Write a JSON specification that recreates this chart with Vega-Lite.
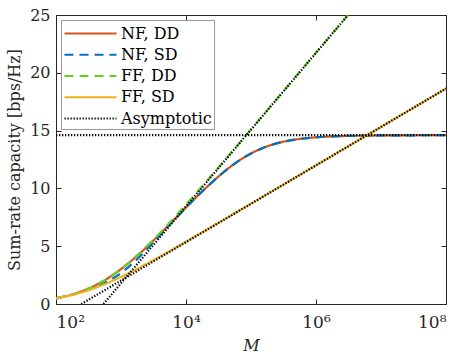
{
  "$schema": "https://vega.github.io/schema/vega-lite/v6.json",
  "width": 390,
  "height": 289,
  "autosize": "none",
  "padding": {"left": 56, "top": 15, "right": 15, "bottom": 54},
  "background": "white",
  "config": {
    "font": "DejaVu Serif",
    "view": {"stroke": "#262626", "strokeWidth": 1},
    "axis": {
      "grid": false,
      "domainColor": "#262626",
      "tickColor": "#262626",
      "labelColor": "#262626",
      "titleColor": "#262626",
      "labelFont": "DejaVu Serif",
      "titleFont": "DejaVu Serif",
      "labelFontSize": 16,
      "titleFontSize": 16,
      "titleFontWeight": "normal",
      "tickSize": -5,
      "labelPadding": 11
    },
    "legend": {
      "labelFont": "DejaVu Serif",
      "labelFontSize": 16,
      "labelColor": "black"
    }
  },
  "data": {
    "values": [
      {"s": "NF, DD", "g": "a", "M": 100, "y": 0.492},
      {"s": "NF, DD", "g": "a", "M": 177.83, "y": 0.824},
      {"s": "NF, DD", "g": "a", "M": 316.23, "y": 1.333},
      {"s": "NF, DD", "g": "a", "M": 562.34, "y": 2.06},
      {"s": "NF, DD", "g": "a", "M": 1000, "y": 3.02},
      {"s": "NF, DD", "g": "a", "M": 1778.3, "y": 4.18},
      {"s": "NF, DD", "g": "a", "M": 3162.3, "y": 5.5},
      {"s": "NF, DD", "g": "a", "M": 5623.4, "y": 6.91},
      {"s": "NF, DD", "g": "a", "M": 10000, "y": 8.35},
      {"s": "NF, DD", "g": "a", "M": 17783, "y": 9.74},
      {"s": "NF, DD", "g": "a", "M": 31623, "y": 11.03},
      {"s": "NF, DD", "g": "a", "M": 56234, "y": 12.15},
      {"s": "NF, DD", "g": "a", "M": 100000, "y": 13.02},
      {"s": "NF, DD", "g": "a", "M": 177828, "y": 13.64},
      {"s": "NF, DD", "g": "a", "M": 316228, "y": 14.04},
      {"s": "NF, DD", "g": "a", "M": 562341, "y": 14.28},
      {"s": "NF, DD", "g": "a", "M": 1000000, "y": 14.42},
      {"s": "NF, DD", "g": "a", "M": 1778279, "y": 14.5},
      {"s": "NF, DD", "g": "a", "M": 3162278, "y": 14.54},
      {"s": "NF, DD", "g": "a", "M": 5623413, "y": 14.565},
      {"s": "NF, DD", "g": "a", "M": 10000000, "y": 14.58},
      {"s": "NF, DD", "g": "a", "M": 17782794, "y": 14.59},
      {"s": "NF, DD", "g": "a", "M": 31622777, "y": 14.595},
      {"s": "NF, DD", "g": "a", "M": 56234133, "y": 14.6},
      {"s": "NF, DD", "g": "a", "M": 100000000, "y": 14.6},

      {"s": "NF, SD", "g": "b", "M": 100, "y": 0.49},
      {"s": "NF, SD", "g": "b", "M": 177.83, "y": 0.8},
      {"s": "NF, SD", "g": "b", "M": 316.23, "y": 1.24},
      {"s": "NF, SD", "g": "b", "M": 562.34, "y": 1.82},
      {"s": "NF, SD", "g": "b", "M": 1000, "y": 2.68},
      {"s": "NF, SD", "g": "b", "M": 1778.3, "y": 3.88},
      {"s": "NF, SD", "g": "b", "M": 3162.3, "y": 5.35},
      {"s": "NF, SD", "g": "b", "M": 5623.4, "y": 6.86},
      {"s": "NF, SD", "g": "b", "M": 10000, "y": 8.35},
      {"s": "NF, SD", "g": "b", "M": 17783, "y": 9.74},
      {"s": "NF, SD", "g": "b", "M": 31623, "y": 11.03},
      {"s": "NF, SD", "g": "b", "M": 56234, "y": 12.15},
      {"s": "NF, SD", "g": "b", "M": 100000, "y": 13.02},
      {"s": "NF, SD", "g": "b", "M": 177828, "y": 13.64},
      {"s": "NF, SD", "g": "b", "M": 316228, "y": 14.04},
      {"s": "NF, SD", "g": "b", "M": 562341, "y": 14.28},
      {"s": "NF, SD", "g": "b", "M": 1000000, "y": 14.42},
      {"s": "NF, SD", "g": "b", "M": 1778279, "y": 14.5},
      {"s": "NF, SD", "g": "b", "M": 3162278, "y": 14.54},
      {"s": "NF, SD", "g": "b", "M": 5623413, "y": 14.565},
      {"s": "NF, SD", "g": "b", "M": 10000000, "y": 14.58},
      {"s": "NF, SD", "g": "b", "M": 17782794, "y": 14.59},
      {"s": "NF, SD", "g": "b", "M": 31622777, "y": 14.595},
      {"s": "NF, SD", "g": "b", "M": 56234133, "y": 14.6},
      {"s": "NF, SD", "g": "b", "M": 100000000, "y": 14.6},

      {"s": "FF, DD", "g": "c", "M": 100, "y": 0.493},
      {"s": "FF, DD", "g": "c", "M": 177.83, "y": 0.825},
      {"s": "FF, DD", "g": "c", "M": 316.23, "y": 1.336},
      {"s": "FF, DD", "g": "c", "M": 562.34, "y": 2.067},
      {"s": "FF, DD", "g": "c", "M": 1000, "y": 3.034},
      {"s": "FF, DD", "g": "c", "M": 1778.3, "y": 4.216},
      {"s": "FF, DD", "g": "c", "M": 3162.3, "y": 5.568},
      {"s": "FF, DD", "g": "c", "M": 5623.4, "y": 7.04},
      {"s": "FF, DD", "g": "c", "M": 10000, "y": 8.588},
      {"s": "FF, DD", "g": "c", "M": 17783, "y": 10.185},
      {"s": "FF, DD", "g": "c", "M": 31623, "y": 11.808},
      {"s": "FF, DD", "g": "c", "M": 56234, "y": 13.448},
      {"s": "FF, DD", "g": "c", "M": 100000, "y": 15.096},
      {"s": "FF, DD", "g": "c", "M": 177828, "y": 16.75},
      {"s": "FF, DD", "g": "c", "M": 316228, "y": 18.41},
      {"s": "FF, DD", "g": "c", "M": 562341, "y": 20.07},
      {"s": "FF, DD", "g": "c", "M": 1000000, "y": 21.73},
      {"s": "FF, DD", "g": "c", "M": 1778279, "y": 23.39},
      {"s": "FF, DD", "g": "c", "M": 3162278, "y": 25.05},
      {"s": "FF, DD", "g": "c", "M": 5623413, "y": 26.71},

      {"s": "FF, SD", "g": "d", "M": 100, "y": 0.493},
      {"s": "FF, SD", "g": "d", "M": 177.83, "y": 0.786},
      {"s": "FF, SD", "g": "d", "M": 316.23, "y": 1.194},
      {"s": "FF, SD", "g": "d", "M": 562.34, "y": 1.719},
      {"s": "FF, SD", "g": "d", "M": 1000, "y": 2.343},
      {"s": "FF, SD", "g": "d", "M": 1778.3, "y": 3.043},
      {"s": "FF, SD", "g": "d", "M": 3162.3, "y": 3.795},
      {"s": "FF, SD", "g": "d", "M": 5623.4, "y": 4.58},
      {"s": "FF, SD", "g": "d", "M": 10000, "y": 5.383},
      {"s": "FF, SD", "g": "d", "M": 17783, "y": 6.199},
      {"s": "FF, SD", "g": "d", "M": 31623, "y": 7.02},
      {"s": "FF, SD", "g": "d", "M": 56234, "y": 7.846},
      {"s": "FF, SD", "g": "d", "M": 100000, "y": 8.674},
      {"s": "FF, SD", "g": "d", "M": 177828, "y": 9.503},
      {"s": "FF, SD", "g": "d", "M": 316228, "y": 10.331},
      {"s": "FF, SD", "g": "d", "M": 562341, "y": 11.162},
      {"s": "FF, SD", "g": "d", "M": 1000000, "y": 11.992},
      {"s": "FF, SD", "g": "d", "M": 1778279, "y": 12.823},
      {"s": "FF, SD", "g": "d", "M": 3162278, "y": 13.653},
      {"s": "FF, SD", "g": "d", "M": 5623413, "y": 14.484},
      {"s": "FF, SD", "g": "d", "M": 10000000, "y": 15.314},
      {"s": "FF, SD", "g": "d", "M": 17782794, "y": 16.145},
      {"s": "FF, SD", "g": "d", "M": 31622777, "y": 16.975},
      {"s": "FF, SD", "g": "d", "M": 56234133, "y": 17.806},
      {"s": "FF, SD", "g": "d", "M": 100000000, "y": 18.636},

      {"s": "Asymptotic", "g": "e", "M": 100, "y": 14.6},
      {"s": "Asymptotic", "g": "e", "M": 100000000, "y": 14.6},
      {"s": "Asymptotic", "g": "f", "M": 537, "y": 0},
      {"s": "Asymptotic", "g": "f", "M": 3110000, "y": 25},
      {"s": "Asymptotic", "g": "h", "M": 245, "y": 0},
      {"s": "Asymptotic", "g": "h", "M": 100000000, "y": 18.636}
    ]
  },
  "layer": [
    {
      "mark": {"type": "line", "clip": true, "interpolate": "monotone"},
      "encoding": {
        "x": {
          "field": "M", "type": "quantitative",
          "scale": {"type": "log", "domain": [100, 100000000]},
          "axis": {
            "values": [100, 10000, 1000000, 100000000],
            "labelExpr": "'10' + (datum.value < 1000 ? '²' : datum.value < 100000 ? '⁴' : datum.value < 10000000 ? '⁶' : '⁸')",
            "labelFontSize": 17,
            "labelPadding": 15,
            "title": "M",
            "titleFontStyle": "italic",
            "titlePadding": 7
          }
        },
        "y": {
          "field": "y", "type": "quantitative",
          "scale": {"domain": [0, 25], "nice": false},
          "axis": {
            "values": [0, 5, 10, 15, 20, 25],
            "title": "Sum-rate capacity [bps/Hz]",
            "titlePadding": 7
          }
        },
        "color": {
          "field": "s", "type": "nominal",
          "scale": {
            "domain": ["NF, DD", "NF, SD", "FF, DD", "FF, SD", "Asymptotic"],
            "range": ["#D95319", "#0072BD", "#62D01E", "#EDB120", "#000000"]
          },
          "legend": {
            "title": null,
            "orient": "top-left",
            "offset": 5,
            "padding": 2,
            "fillColor": "white",
            "strokeColor": "#999999",
            "symbolType": "M-1,0H4.2",
            "symbolSize": 400,
            "symbolStrokeWidth": 2,
            "labelOffset": 35,
            "rowPadding": 1.25
          }
        },
        "strokeDash": {
          "field": "s", "type": "nominal",
          "scale": {
            "domain": ["NF, DD", "NF, SD", "FF, DD", "FF, SD", "Asymptotic"],
            "range": [[1, 0], [9, 6], [9, 6], [1, 0], [1.3, 1.7]]
          }
        },
        "strokeWidth": {
          "field": "s", "type": "nominal",
          "scale": {
            "domain": ["NF, DD", "NF, SD", "FF, DD", "FF, SD", "Asymptotic"],
            "range": [2.2, 2.2, 2.2, 2.2, 1.5]
          },
          "legend": null
        },
        "detail": {"field": "g", "type": "nominal"}
      }
    },
    {
      "mark": {"type": "line", "opacity": 0},
      "encoding": {
        "x": {
          "field": "M", "type": "quantitative",
          "scale": {"type": "log", "domain": [100, 100000000]},
          "axis": {"orient": "top", "values": [100, 10000, 1000000, 100000000], "labels": false, "title": null, "domain": false}
        },
        "y": {
          "field": "y", "type": "quantitative",
          "scale": {"domain": [0, 25], "nice": false},
          "axis": {"orient": "right", "values": [0, 5, 10, 15, 20, 25], "labels": false, "title": null, "domain": false}
        },
        "detail": {"field": "g", "type": "nominal"}
      }
    }
  ],
  "resolve": {"axis": {"x": "independent", "y": "independent"}}
}
